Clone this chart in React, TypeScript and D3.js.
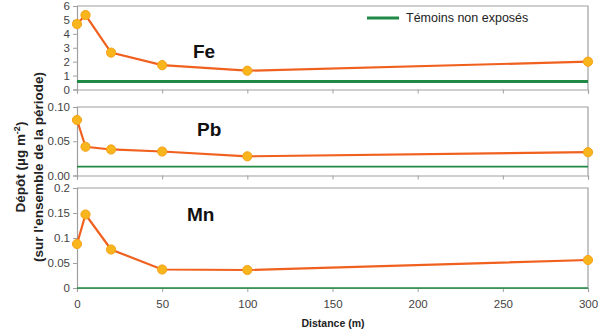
import React, { useEffect, useRef } from 'react';
import * as d3 from 'd3';

const distances = [0, 5, 20, 50, 100, 300];
const feValues = [4.7, 5.35, 2.65, 1.75, 1.35, 2.0];
const pbValues = [0.081, 0.042, 0.038, 0.035, 0.028, 0.034];
const mnValues = [0.088, 0.147, 0.077, 0.037, 0.036, 0.056];
const controls = { Fe: 0.57, Pb: 0.013, Mn: 0.0 };
const xTicks = [0, 50, 100, 150, 200, 250, 300];
const feTicks = [0, 1, 2, 3, 4, 5, 6];
const pbTicks = [0, 0.05, 0.1];
const mnTicks = [0, 0.05, 0.1, 0.15, 0.2];

function App() {
  const ref = useRef<SVGSVGElement | null>(null);

  useEffect(() => {
    const svg = d3.select(ref.current);
    svg.selectAll('*').remove();

    const left = 77;
    const right = 588;
    const font = 'Liberation Sans, Arial, sans-serif';
    const x = d3.scaleLinear().domain([0, 300]).range([left, right]);

    const panels = [
      { name: 'Fe', values: feValues, ctrl: controls.Fe, ticks: feTicks, max: 6, top: 6, bottom: 89.5, fmt: d3.format('d'), lx: 193, ly: 58, ctrlW: 3 },
      { name: 'Pb', values: pbValues, ctrl: controls.Pb, ticks: pbTicks, max: 0.1, top: 107, bottom: 175.5, fmt: d3.format('.2f'), lx: 197, ly: 136, ctrlW: 1.6 },
      { name: 'Mn', values: mnValues, ctrl: controls.Mn, ticks: mnTicks, max: 0.2, top: 188, bottom: 288, fmt: (d: number) => (d === 0 ? '0' : String(+d.toFixed(2))), lx: 187, ly: 221, ctrlW: 1.6 },
    ];

    panels.forEach(p => {
      const y = d3.scaleLinear().domain([0, p.max]).range([p.bottom, p.top]);
      const g = svg.append('g');

      // frame: top and right edges
      g.append('path')
        .attr('d', `M${left},${p.top}H${right}V${p.bottom}`)
        .attr('fill', 'none')
        .attr('stroke', '#a0a0a0')
        .attr('stroke-width', 1.2);

      const yAxis = d3.axisLeft(y).tickValues(p.ticks).tickSize(4).tickFormat(p.fmt as any);
      const ya = g.append('g').attr('transform', `translate(${left},0)`).call(yAxis);
      ya.select('.domain').attr('stroke', '#a0a0a0').attr('stroke-width', 1.2);
      ya.selectAll('.tick line').attr('stroke', '#a0a0a0');
      ya.selectAll('.tick text')
        .attr('fill', '#444')
        .attr('font-size', 11.5)
        .attr('font-family', font)
        .attr('x', -7);

      const xAxis = d3.axisBottom(x).tickValues(xTicks).tickSize(4).tickFormat(() => '');
      const xa = g.append('g').attr('transform', `translate(0,${p.bottom})`).call(xAxis);
      xa.select('.domain').attr('stroke', '#a0a0a0').attr('stroke-width', 1.2);
      xa.selectAll('.tick line').attr('stroke', '#a0a0a0');

      if (p.name === 'Mn') {
        xa.selectAll('.tick text').remove();
        xa.selectAll('.tick')
          .append('text')
          .attr('y', 20)
          .attr('text-anchor', 'middle')
          .attr('fill', '#444')
          .attr('font-size', 11.5)
          .attr('font-family', font)
          .text((d: any) => String(d));
      }

      // control line
      g.append('line')
        .attr('x1', left)
        .attr('x2', right)
        .attr('y1', y(p.ctrl))
        .attr('y2', y(p.ctrl))
        .attr('stroke', '#1f8a45')
        .attr('stroke-width', p.ctrlW);

      const line = d3.line<number>()
        .x((_, i) => x(distances[i]))
        .y(d => y(d));

      g.append('path')
        .datum(p.values)
        .attr('d', line)
        .attr('fill', 'none')
        .attr('stroke', '#f0601e')
        .attr('stroke-width', 2.2);

      g.selectAll('circle.pt')
        .data(p.values)
        .enter()
        .append('circle')
        .attr('cx', (_, i) => x(distances[i]))
        .attr('cy', d => y(d))
        .attr('r', 4.6)
        .attr('fill', '#f9b51c')
        .attr('stroke', '#f5a21a')
        .attr('stroke-width', 1);

      g.append('text')
        .attr('x', p.lx)
        .attr('y', p.ly)
        .attr('font-size', 19)
        .attr('font-weight', 'bold')
        .attr('font-family', font)
        .attr('fill', '#111')
        .text(p.name);
    });

    // legend
    svg.append('line')
      .attr('x1', 367).attr('x2', 399)
      .attr('y1', 18).attr('y2', 18)
      .attr('stroke', '#1f8a45').attr('stroke-width', 3);
    svg.append('text')
      .attr('x', 406).attr('y', 22)
      .attr('font-size', 12.5)
      .attr('font-family', font)
      .attr('fill', '#222')
      .text('Témoins non exposés');

    // y title
    const yt = svg.append('text')
      .attr('transform', 'translate(0,167) rotate(-90)')
      .attr('text-anchor', 'middle')
      .attr('font-size', 13.5)
      .attr('font-weight', 'bold')
      .attr('font-family', font)
      .attr('fill', '#222');
    const t1 = yt.append('tspan').attr('x', 0).attr('y', 25);
    t1.append('tspan').text('Dépôt (µg m');
    t1.append('tspan').attr('baseline-shift', 'super').attr('font-size', 9).text('-2');
    t1.append('tspan').text(')');
    yt.append('tspan').attr('x', 0).attr('y', 43).text("(sur l'ensemble de la période)");

    // x title
    svg.append('text')
      .attr('x', 333).attr('y', 327)
      .attr('text-anchor', 'middle')
      .attr('font-size', 10.5)
      .attr('font-weight', 'bold')
      .attr('font-family', font)
      .attr('fill', '#222')
      .text('Distance (m)');
  }, []);

  return (
    <svg ref={ref} width={599} height={333} style={{ position: 'absolute', left: 0, top: 0, background: '#fff' }} />
  );
}

export default App;
